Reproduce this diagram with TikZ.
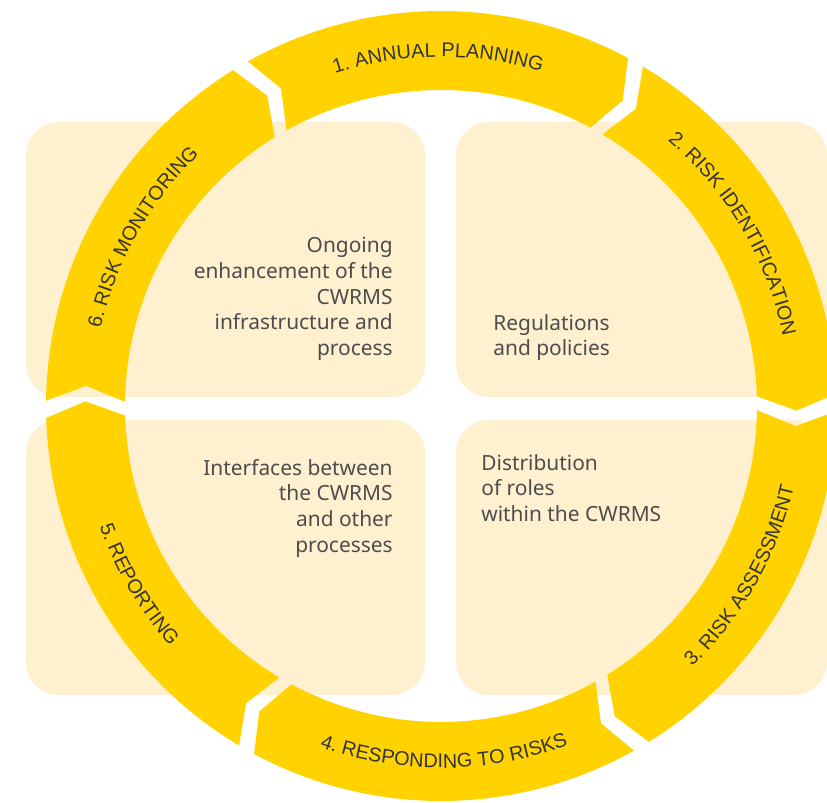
\documentclass[tikz,border=0pt]{standalone}
\usepackage{fontspec}
\setmainfont{Noto Sans}
\newfontfamily\ringfamily{Liberation Sans}
\usetikzlibrary{decorations.text}
\definecolor{ringyellow}{HTML}{FFD200}
\definecolor{boxcream}{HTML}{FFF1D0}
\definecolor{bodygray}{HTML}{4D4D4D}
\definecolor{labelgray}{HTML}{34343C}
\newcommand{\ringfont}{\ringfamily\fontsize{11.3}{13}\selectfont}
\tikzset{
  infobox/.style={fill=boxcream, rounded corners=0.66cm},
  ringseg/.style={fill=ringyellow},
  infotext/.style={inner sep=0pt, text=bodygray, font=\fontsize{11.9}{14.6}\selectfont},
  ringlabel/.style={decorate, decoration={text along path, text align=center,
      text color=labelgray, text={#1}}},
}
\begin{document}
\begin{tikzpicture}[x=0.02cm, y=0.02cm]
      \useasboundingbox (0,0) rectangle (827,803);
      %%%%%%%%%%%%%%%%%%%%%%%%%%%%%%%%%%%%%%%%%%%%%%%
      \fill[infobox] (26,406) rectangle (425,681);
      \fill[infobox] (456,406) rectangle (827,681);
      \fill[infobox] (26,108) rectangle (425,383);
      \fill[infobox] (456,108) rectangle (827,383);
      %%%%%%%%%%%%%%%%%%%%%%%%%%%%%%%%%%%%%%%%%%%%%%%
      \begin{scope}[shift={(441,397)}]
      \foreach \k in {0,...,5}{
        \pgfmathsetmacro{\sa}{119.25-60*\k}
        \pgfmathsetmacro{\ea}{\sa-57.5}
        \pgfmathsetmacro{\ta}{\ea-2.5}
        \pgfmathsetmacro{\na}{\sa-2.5}
        \fill[ringseg] (\sa:395) arc[start angle=\sa, end angle=\ea, radius=395]
              -- (\ta:355.5) -- (\ea:316)
              arc[start angle=\ea, end angle=\sa, radius=316]
              -- (\na:355.5) -- cycle;
      }
      % top half: clockwise, bottom half: counter-clockwise
      \path[ringlabel={|\ringfont|1. ANNUAL PLANNING}] (119.25:349) arc[start angle=119.25, end angle=61.75, radius=349];
      \path[ringlabel={|\ringfont|2. RISK IDENTIFICATION}] (59.25:349) arc[start angle=59.25, end angle=1.75, radius=349];
      \path[ringlabel={|\ringfont|3. RISK ASSESSMENT}] (-58.25:362) arc[start angle=-58.25, end angle=-0.75, radius=362];
      \path[ringlabel={|\ringfont|4. RESPONDING TO RISKS}] (-118.25:362) arc[start angle=-118.25, end angle=-60.75, radius=362];
      \path[ringlabel={|\ringfont|5. REPORTING}] (-178.25:362) arc[start angle=-178.25, end angle=-120.75, radius=362];
      \path[ringlabel={|\ringfont|6. RISK MONITORING}] (179.25:349) arc[start angle=179.25, end angle=121.75, radius=349];
      \end{scope}
      %%%%%%%%%%%%%%%%%%%%%%%%%%%%%%%%%%%%%%%%%%%%%%%
      \node[infotext, align=right, anchor=north east] at (393,566) (enhance) {Ongoing\\enhancement of the\\CWRMS\\infrastructure and\\process};
      \node[infotext, align=left, anchor=north west] at (493,489) (regul) {Regulations\\and policies};
      \node[infotext, align=right, anchor=north east] at (393,344) (interf) {Interfaces between\\the CWRMS\\and other\\processes};
      \node[infotext, align=left, anchor=north west] at (481,349) (roles) {Distribution\\of roles\\within the CWRMS};
\end{tikzpicture}
\end{document}
